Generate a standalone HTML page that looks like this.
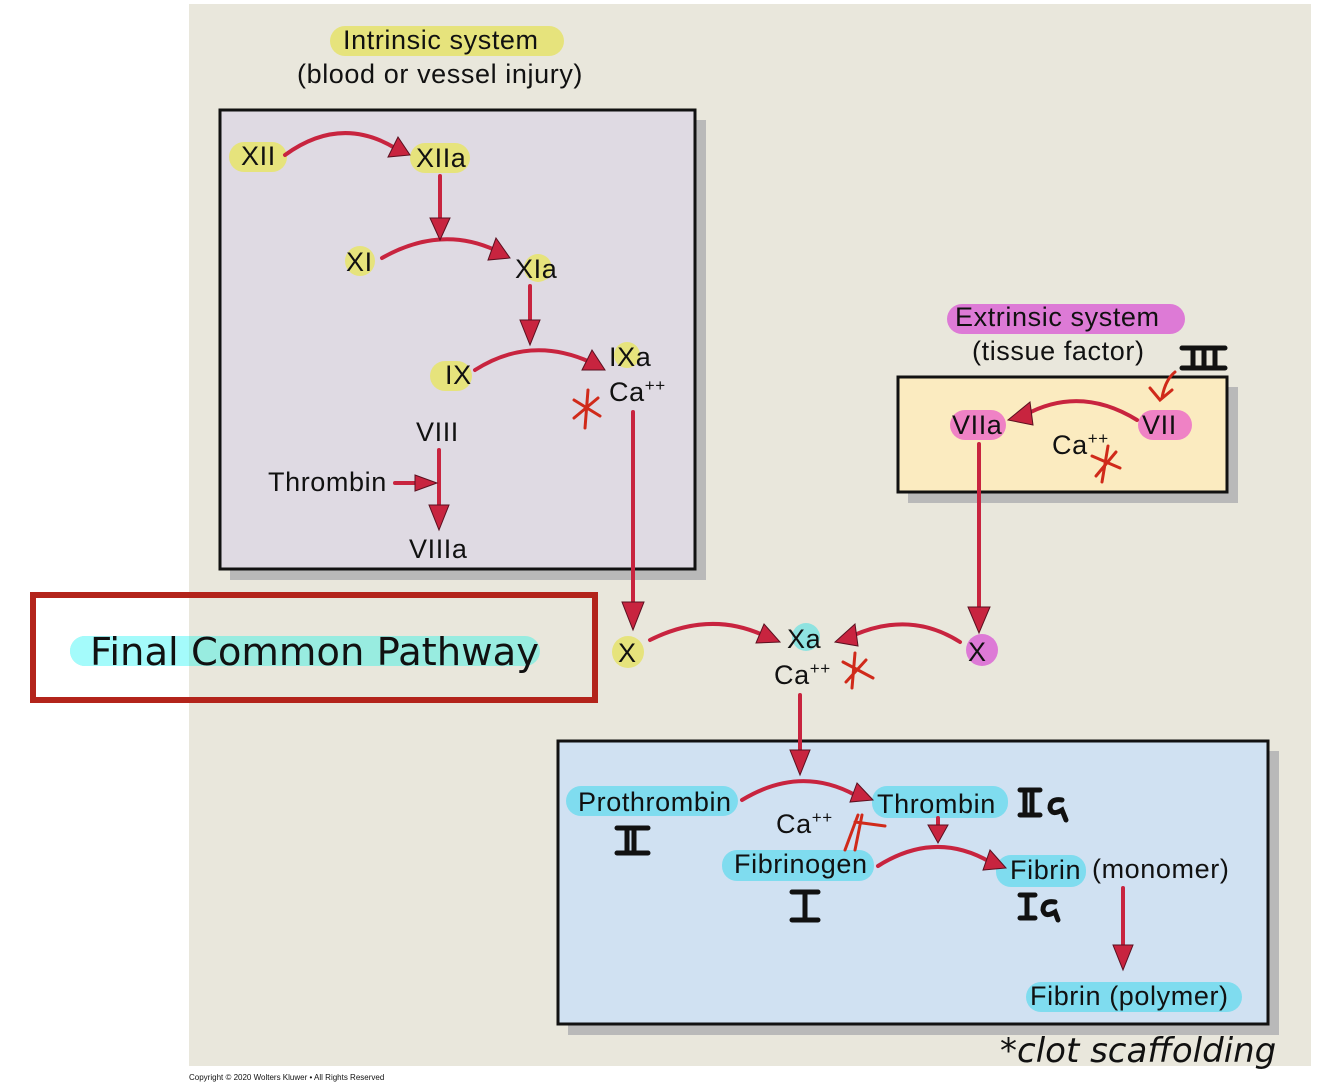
<!DOCTYPE html>
<html><head><meta charset="utf-8"><style>
html,body{margin:0;padding:0;background:#fff;}
svg{display:block;}
text{font-family:"Liberation Sans",Arial,sans-serif;fill:#111;}
</style></head><body>
<svg width="1334" height="1084" viewBox="0 0 1334 1084" xmlns="http://www.w3.org/2000/svg">
<rect x="189" y="4" width="1122" height="1062" fill="#e9e7dc"/>

<rect x="230" y="120" width="476" height="460" fill="#b9b9b9"/>
<rect x="220" y="110" width="475" height="459" fill="#dfdae3" stroke="#111" stroke-width="3"/>
<rect x="908" y="387" width="330" height="116" fill="#b9b9b9"/>
<rect x="898" y="377" width="329" height="115" fill="#fbebc0" stroke="#111" stroke-width="3"/>
<rect x="568" y="751" width="711" height="284" fill="#b9b9b9"/>
<rect x="558" y="741" width="710" height="283" fill="#d0e1f2" stroke="#111" stroke-width="3"/>

<rect x="36" y="598" width="153" height="100" fill="#fff"/>
<rect x="33" y="595" width="562" height="105" fill="none" stroke="#b3241b" stroke-width="6"/>
<rect x="70" y="636" width="470" height="30" rx="15" fill="#98ece0"/>
<rect x="70" y="636" width="119" height="30" rx="15" fill="#a4fbfb"/>
<rect x="120" y="636" width="69" height="30" fill="#a4fbfb"/>
<text x="90" y="665" style="font-family:'DejaVu Sans',sans-serif;font-size:38.5px;">Final Common Pathway</text>

<g fill="#e6e37c">
<rect x="330" y="26" width="234" height="30" rx="15"/>
<rect x="229" y="142" width="58" height="30" rx="15"/>
<rect x="410" y="143" width="60" height="30" rx="15"/>
<circle cx="360" cy="261" r="15"/>
<circle cx="538" cy="268" r="14"/>
<rect x="430" y="361" width="42" height="30" rx="15"/>
<circle cx="627" cy="355" r="13"/>
<circle cx="628" cy="652" r="16"/>
</g>
<g fill="#dd7ad6">
<rect x="947" y="304" width="238" height="30" rx="15"/>
<circle cx="982" cy="650" r="16"/>
</g>
<g fill="#ef82c5">
<rect x="950" y="410" width="56" height="30" rx="15"/>
<rect x="1138" y="410" width="54" height="30" rx="15"/>
</g>
<circle cx="806" cy="637" r="14" fill="#8fe3e0"/>
<g fill="#7fdcef">
<rect x="566" y="786" width="172" height="30" rx="15"/>
<rect x="872" y="786" width="136" height="32" rx="15"/>
<rect x="722" y="850" width="152" height="31" rx="15"/>
<rect x="996" y="855" width="90" height="32" rx="15"/>
<rect x="1026" y="982" width="216" height="30" rx="15"/>
</g>

<g font-size="27" letter-spacing="0.6">
<text x="343" y="49">Intrinsic system</text>
<text x="297" y="83">(blood or vessel injury)</text>
<text x="241" y="165">XII</text>
<text x="416" y="167">XIIa</text>
<text x="346" y="271">XI</text>
<text x="515" y="278">XIa</text>
<text x="445" y="384">IX</text>
<text x="609" y="366">IXa</text>
<text x="609" y="401">Ca<tspan font-size="17" dy="-10">++</tspan></text>
<text x="416" y="441">VIII</text>
<text x="268" y="491">Thrombin</text>
<text x="409" y="558">VIIIa</text>
<text x="955" y="326">Extrinsic system</text>
<text x="972" y="360">(tissue factor)</text>
<text x="952" y="434">VIIa</text>
<text x="1142" y="434">VII</text>
<text x="1052" y="454">Ca<tspan font-size="17" dy="-10">++</tspan></text>
<text x="618" y="662">X</text>
<text x="787" y="648">Xa</text>
<text x="774" y="684">Ca<tspan font-size="17" dy="-10">++</tspan></text>
<text x="968" y="661">X</text>
<text x="578" y="811">Prothrombin</text>
<text x="877" y="813">Thrombin</text>
<text x="776" y="833">Ca<tspan font-size="17" dy="-10">++</tspan></text>
<text x="734" y="873">Fibrinogen</text>
<text x="1010" y="879">Fibrin</text>
<text x="1092" y="878">(monomer)</text>
<text x="1030" y="1005">Fibrin (polymer)</text>
</g>

<g fill="none" stroke="#c8243f" stroke-width="4" stroke-linecap="round">
<path d="M285 155 Q340 115 395 148"/>
<path d="M440 176 L440 220"/>
<path d="M382 258 Q440 225 495 250"/>
<path d="M530 286 L530 330"/>
<path d="M475 370 Q530 335 590 362"/>
<path d="M439 450 L439 510"/>
<path d="M395 483 L420 483"/>
<path d="M633 412 L633 605"/>
<path d="M979 444 L979 615"/>
<path d="M650 640 Q710 610 765 636"/>
<path d="M960 642 Q910 610 852 636"/>
<path d="M1137 420 Q1080 385 1025 415"/>
<path d="M800 695 L800 755"/>
<path d="M742 800 Q800 765 855 795"/>
<path d="M938 818 L938 830"/>
<path d="M878 866 Q935 830 990 862"/>
<path d="M1123 888 L1123 950"/>
</g>
<g fill="#c8243f" stroke="#5a1020" stroke-width="1">
<polygon points="398,137 410,155 388,157"/>
<polygon points="430,218 450,218 440,240"/>
<polygon points="496,238 510,258 488,260"/>
<polygon points="520,320 540,320 530,345"/>
<polygon points="592,350 605,370 582,370"/>
<polygon points="429,505 449,505 439,530"/>
<polygon points="415,475 437,483 415,491"/>
<polygon points="622,602 644,602 633,630"/>
<polygon points="968,607 990,607 979,633"/>
<polygon points="764,624 780,642 756,643"/>
<polygon points="855,624 835,642 858,646"/>
<polygon points="1030,402 1008,420 1033,425"/>
<polygon points="790,750 810,750 800,775"/>
<polygon points="857,783 873,800 850,802"/>
<polygon points="928,825 948,825 938,843"/>
<polygon points="990,850 1006,868 983,870"/>
<polygon points="1113,945 1133,945 1123,970"/>
</g>

<g stroke="#d02a1a" stroke-width="3" fill="none" stroke-linecap="round">
<path d="M588 390 L585 428 M574 400 L600 416 M598 398 L574 418"/>
<path d="M1108 446 L1102 482 M1092 456 L1120 468 M1116 452 L1096 476"/>
<path d="M855 653 L852 688 M843 662 L873 678 M866 660 L846 682"/>
<path d="M845 850 L858 815 M855 850 L862 815 M855 822 L885 826"/>
<path d="M1175 372 Q1165 380 1162 398 M1150 388 L1160 400 L1172 390"/>
</g>

<g stroke="#111" stroke-width="5" fill="none" stroke-linecap="round">
<path d="M1182 348 L1225 348 M1182 368 L1225 368 M1193 348 L1193 368 M1204 348 L1204 368 M1215 348 L1215 368"/>
<path d="M617 828 L648 828 M617 853 L648 853 M627 828 L627 853 M634 828 L634 853"/>
<path d="M792 892 L818 892 M792 920 L818 920 M805 892 L805 920"/>
<path d="M1020 790 L1040 790 M1020 815 L1040 815 M1025 790 L1025 815 M1032 790 L1032 815"/>
<path d="M1062 800 Q1050 798 1050 808 Q1052 816 1062 810 L1066 820"/>
<path d="M1020 895 L1035 895 M1020 918 L1035 918 M1027 895 L1027 918"/>
<path d="M1055 902 Q1043 900 1043 910 Q1045 918 1055 912 L1058 920"/>
</g>
<text x="1000" y="1062" style="font-family:'DejaVu Sans',sans-serif;font-size:34px;font-style:italic;">*clot scaffolding</text>
<text x="189" y="1080" font-size="8">Copyright © 2020 Wolters Kluwer • All Rights Reserved</text>
</svg>
</body></html>
